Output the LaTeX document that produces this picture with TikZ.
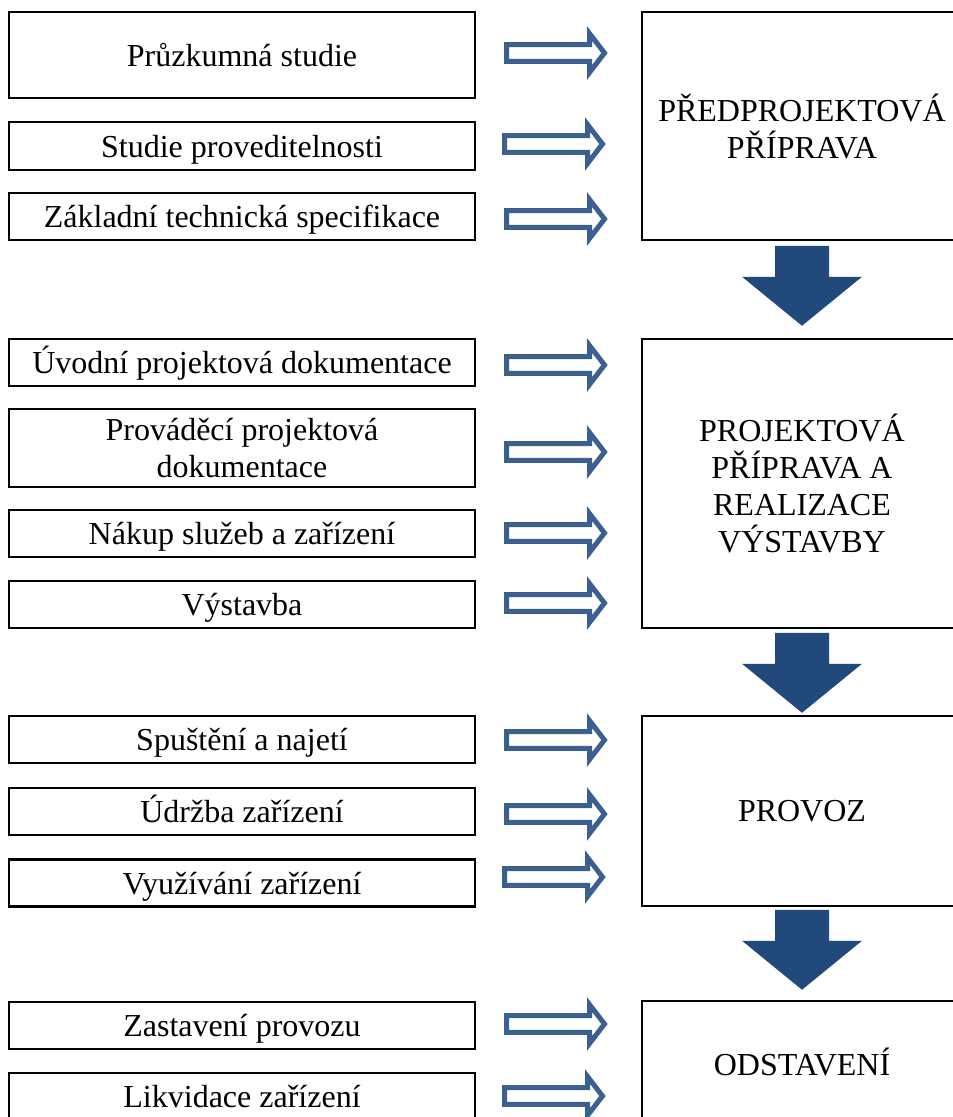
\documentclass[tikz,border=0pt]{standalone}
\usepackage{fontspec}
\setmainfont{Liberation Serif}
\usetikzlibrary{calc}
\definecolor{hollowblue}{RGB}{59,96,143}
\definecolor{darkblue}{RGB}{33,73,124}
\begin{document}
\begin{tikzpicture}[x=1pt,y=-1pt,
  box/.style={draw=black, line width=2.5pt, fill=white, inner sep=0pt, font=\fontsize{32}{37}\selectfont, align=center},
  lbox/.style={box, minimum width=466pt, minimum height=47pt, text height=29pt, text depth=7pt},
  lboxtwo/.style={box, minimum width=466pt},
  rbox/.style={box, minimum width=320pt},
  harrow/.pic={\draw[draw=hollowblue, line width=5pt, fill=white, line join=miter] (0,-8.3) -- (83,-8.3) -- (83,-19.5) -- (98,0) -- (83,19.5) -- (83,8.3) -- (0,8.3) -- cycle;},
  bigarrow/.pic={\fill[darkblue] (-27,0) -- (27,0) -- (27,31) -- (60,31) -- (0,80) -- (-60,31) -- (-27,31) -- cycle;}
]
\useasboundingbox (0,0) rectangle (953,1117);
\clip (0,0) rectangle (953,1117);

% left boxes
\node[lbox, minimum height=86pt] (l1) at (242,55) {Průzkumná studie};
\node[lbox, minimum height=48pt] (l2) at (242,146) {Studie proveditelnosti};
\node[lbox] (l3) at (242,216.5) {Základní technická specifikace};
\node[lbox] (l4) at (242,362.5) {Úvodní projektová dokumentace};
\node[lboxtwo, minimum height=78pt] (l5) at (242,448) {Prováděcí projektová\\dokumentace};
\node[lbox] (l6) at (242,533.5) {Nákup služeb a zařízení};
\node[lbox] (l7) at (242,604.5) {Výstavba};
\node[lbox] (l8) at (242,739.5) {Spuštění a najetí};
\node[lbox] (l9) at (242,811.5) {Údržba zařízení};
\node[lbox] (l10) at (242,883) {Využívání zařízení};
\node[lbox] (l11) at (242,1025.5) {Zastavení provozu};
\node[lbox] (l12) at (242,1096.5) {Likvidace zařízení};

% right boxes
\node[rbox, minimum height=228pt] (r1) at (802,126) {PŘEDPROJEKTOVÁ\\PŘÍPRAVA};
\node[rbox, minimum height=289pt] (r2) at (802,483.5) {PROJEKTOVÁ\\PŘÍPRAVA A\\REALIZACE\\VÝSTAVBY};
\node[rbox, minimum height=190pt] (r3) at (802,811) {PROVOZ};
\node[rbox, minimum height=122pt] (r4) at (802,1062) {ODSTAVENÍ};

% hollow arrows
\coordinate (a1) at (506.5,53);
\coordinate (a2) at (504.5,144);
\coordinate (a3) at (506.5,219);
\coordinate (a4) at (506.5,365);
\coordinate (a5) at (506.5,452);
\coordinate (a6) at (506.5,533);
\coordinate (a7) at (506.5,603);
\coordinate (a8) at (506.5,740);
\coordinate (a9) at (506.5,814);
\coordinate (a10) at (504.5,877);
\coordinate (a11) at (506.5,1024);
\coordinate (a12) at (504.5,1096);
\foreach \i in {1,...,12} {\pic at (a\i) {harrow};}

% big down arrows
\pic at ($(r1.south)+(0,4.5)$) {bigarrow};
\pic at ($(r2.south)+(0,3.5)$) {bigarrow};
\pic at ($(r3.south)+(0,2.5)$) {bigarrow};
\end{tikzpicture}
\end{document}
